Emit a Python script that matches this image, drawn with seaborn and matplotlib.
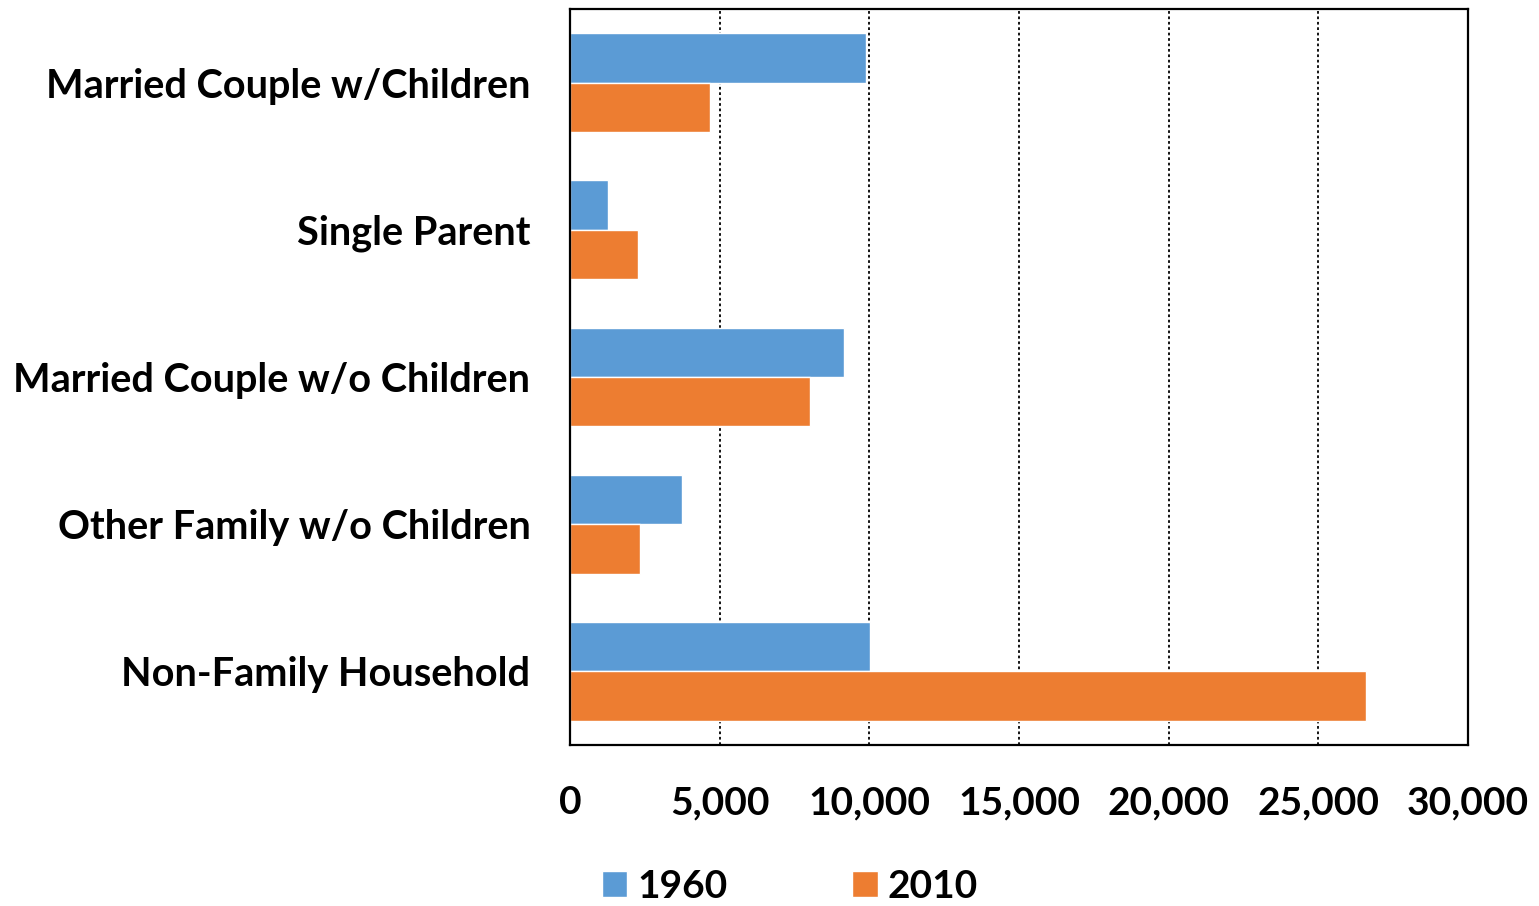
import matplotlib
matplotlib.use("Agg")
import matplotlib.pyplot as plt
import seaborn as sns
import pandas as pd
from matplotlib.patches import Patch
from matplotlib.ticker import FuncFormatter

categories = ["Married Couple w/Children", "Single Parent", "Married Couple w/o Children",
              "Other Family w/o Children", "Non-Family Household"]
years = ["1960", "2010"]
values_1960 = [9900, 1280, 9160, 3750, 10030]
values_2010 = [4690, 2280, 8020, 2350, 26600]
x_ticks = [0, 5000, 10000, 15000, 20000, 25000, 30000]
colors = ["#5B9BD5", "#ED7D31"]

rows = []
for c, a, b in zip(categories, values_1960, values_2010):
    rows.append({"Category": c, "Year": years[0], "Value": a})
    rows.append({"Category": c, "Year": years[1], "Value": b})
df = pd.DataFrame(rows)

sns.set_theme(style="white")
plt.rcParams['font.family'] = ['Lato', 'DejaVu Sans']
plt.rcParams['font.weight'] = 'bold'
plt.rcParams['text.color'] = 'black'
plt.rcParams['xtick.color'] = 'black'
plt.rcParams['ytick.color'] = 'black'

fig = plt.figure(figsize=(15.39, 9.06), dpi=100)
ax = fig.add_axes([570/1539, 1-745/906, (1468-570)/1539, (745-9)/906])

sns.barplot(data=df, y="Category", x="Value", hue="Year", orient="h",
            palette=colors, width=0.67, ax=ax, legend=False, saturation=1,
            order=categories, hue_order=years)

ax.set_xlim(0, 30000)
ax.set_ylim(4.5, -0.5)
ax.set_xticks(x_ticks)
ax.xaxis.set_major_formatter(FuncFormatter(lambda v, p: f"{int(v):,}"))
ax.set_xlabel("")
ax.set_ylabel("")
ax.grid(axis="x", color="black", linestyle=(0, (1.5, 1.5)), linewidth=1.3)
ax.grid(axis="y", visible=False)
ax.set_axisbelow(True)
for s in ax.spines.values():
    s.set_visible(True)
    s.set_color("black")
    s.set_linewidth(1.6)
ax.tick_params(axis="both", length=0, colors="black")
ax.tick_params(axis="x", pad=29, labelsize=28)
ax.tick_params(axis="y", pad=28.5, labelsize=28.5)
for lab in ax.get_xticklabels() + ax.get_yticklabels():
    lab.set_fontweight("bold")
    lab.set_color("black")

handles = [Patch(facecolor=colors[0], label=years[0]), Patch(facecolor=colors[1], label=years[1])]
fig.legend(handles=handles, loc="center", bbox_to_anchor=(790/1539, 1-886/906), ncol=2,
           frameon=False, prop={"size": 28, "weight": "bold"}, handlelength=0.65, handleheight=0.65,
           handletextpad=0.26, columnspacing=3.2, labelcolor="black")

fig.savefig("out.png", dpi=100)
